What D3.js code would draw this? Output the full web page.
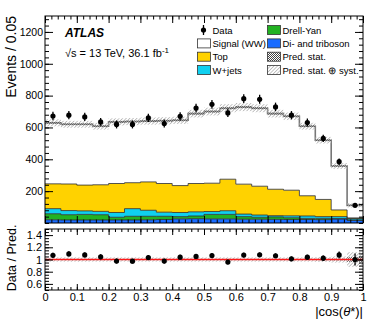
<!DOCTYPE html>
<html>
<head>
<meta charset="utf-8">
<script src="https://cdn.jsdelivr.net/npm/d3@7"></script>
<style>
body{margin:0;background:#fff;}
text{font-family:"Liberation Sans",Arial,Helvetica,sans-serif;fill:#000;}
</style>
</head>
<body>
<svg id="chart"></svg>
<script>
// bins of |cos(theta*)|
var binEdges = [0,0.05,0.1,0.15,0.2,0.25,0.3,0.35,0.4,0.45,0.5,0.55,0.6,0.65,0.7,0.75,0.8,0.85,0.9,0.95,1];

// events per bin
var dataVals = [672,677,666,635,619,619,660,625,670,722,745,691,781,777,729,677,631,531,385,111];
var dataErr  = [26,26,26,25,25,25,26,25,26,27,27,26,28,28,27,26,25,23,20,11];

var dibosonVals = [20,19,19,19,19,19,20,22,26,27,26,26,24,24,23,22,22,21,25,17];
var dyVals      = [38,33,35,33,17,23,22,20,14,17,28,28,16,12,15,11,7,8,2,2];
var wjetsVals   = [32,26,22,21,30,48,38,26,26,26,18,23,16,14,8,12,15,11,13,9];
var topVals     = [156,167,162,167,182,163,178,180,169,178,178,198,188,181,166,161,127,108,42,4];
var signalVals  = [383,375,382,368,387,384,382,394,410,439,450,446,484,490,475,464,437,372,276,79];

// relative uncertainty on the prediction
var systUnc = [0.035,0.035,0.035,0.035,0.035,0.035,0.035,0.035,0.035,0.035,0.035,0.035,0.035,0.035,0.035,0.035,0.035,0.04,0.05,0.12];
var statUnc = [0.01,0.01,0.01,0.01,0.01,0.01,0.01,0.01,0.01,0.01,0.01,0.01,0.01,0.01,0.01,0.01,0.01,0.012,0.015,0.04];

var xTicks = [0,0.1,0.2,0.3,0.4,0.5,0.6,0.7,0.8,0.9,1];
var xTickLabels = ["0","0.1","0.2","0.3","0.4","0.5","0.6","0.7","0.8","0.9","1"];
var mainYTicks = [200,400,600,800,1000,1200];
var mainYLabels = ["200","400","600","800","1000","1200"];
var ratioYTicks = [0.6,0.8,1,1.2,1.4];
var ratioYLabels = ["0.6","0.8","1","1.2","1.4"];

var legendLeft = ["Data","Signal (WW)","Top","W+jets"];
var legendRight = ["Drell-Yan","Di- and triboson","Pred. stat.","Pred. stat. \u2295 syst."];

var keys = ["diboson","dy","wjets","top","signal"];
var colors = {diboson:"#1a6cff", dy:"#22b222", wjets:"#10d0f0", top:"#ffd200", signal:"#ffffff"};

var width = 382, height = 323;
var main = {left:45, right:363, top:16, bottom:223};
var ratio = {top:229, bottom:290};

var svg = d3.select("#chart").attr("width",width).attr("height",height);

var defs = svg.append("defs");
var syst = defs.append("pattern").attr("id","syst")
  .attr("patternUnits","userSpaceOnUse").attr("width",2.5).attr("height",2.5)
  .attr("patternTransform","rotate(45)");
syst.append("rect").attr("width",2.5).attr("height",2.5).attr("fill","#fff").attr("fill-opacity",0.3);
syst.append("line").attr("x1",0).attr("y1",0).attr("x2",0).attr("y2",2.5)
  .attr("stroke","#8a8a8a").attr("stroke-width",1);
var stat = defs.append("pattern").attr("id","stat")
  .attr("patternUnits","userSpaceOnUse").attr("width",2).attr("height",2);
stat.append("rect").attr("width",1).attr("height",1).attr("fill","#444");
stat.append("rect").attr("x",1).attr("y",1).attr("width",1).attr("height",1).attr("fill","#444");

var xScale = d3.scaleLinear().domain([0,1]).range([main.left,main.right]);
var yScale = d3.scaleLinear().domain([0,1300]).range([main.bottom,main.top]);
var rScale = d3.scaleLinear().domain([0.5,1.5]).range([ratio.bottom,ratio.top]);

var nBins = dataVals.length;
var rows = binEdges.map(function(e,i){
  var k = Math.min(i,nBins-1);
  return {x:e, diboson:dibosonVals[k], dy:dyVals[k], wjets:wjetsVals[k], top:topVals[k], signal:signalVals[k]};
});
var series = d3.stack().keys(keys)(rows);

var totals = dataVals.map(function(d,i){
  return dibosonVals[i]+dyVals[i]+wjetsVals[i]+topVals[i]+signalVals[i];
});

var area = d3.area()
  .x(function(d){return xScale(d.data.x);})
  .y0(function(d){return yScale(d[0]);})
  .y1(function(d){return yScale(d[1]);})
  .curve(d3.curveStepAfter);
var topLine = d3.line()
  .x(function(d){return xScale(d.data.x);})
  .y(function(d){return yScale(d[1]);})
  .curve(d3.curveStepAfter);

var plot = svg.append("g");
plot.selectAll("path.stack")
  .data(series)
  .enter()
  .append("path")
  .attr("class","stack")
  .attr("d",area)
  .attr("fill",function(d){return colors[d.key];});

plot.selectAll("path.edge")
  .data(series)
  .enter()
  .append("path")
  .attr("class","edge")
  .attr("d",topLine)
  .attr("fill","none")
  .attr("stroke",function(d){return d.key=="signal" ? "#777" : "#2a2a2a";})
  .attr("stroke-width",function(d){return d.key=="signal" ? 1.6 : 0.8;});

// uncertainty bands, main panel
var bandData = totals.map(function(t,i){return {lo:binEdges[i], hi:binEdges[i+1], t:t, s:systUnc[i], st:statUnc[i]};});
plot.selectAll("rect.syst")
  .data(bandData).enter().append("rect")
  .attr("x",function(d){return xScale(d.lo);})
  .attr("width",function(d){return xScale(d.hi)-xScale(d.lo);})
  .attr("y",function(d){return yScale(d.t*(1+d.s));})
  .attr("height",function(d){return yScale(d.t*(1-d.s))-yScale(d.t*(1+d.s));})
  .attr("fill","url(#syst)");
plot.selectAll("rect.stat")
  .data(bandData).enter().append("rect")
  .attr("x",function(d){return xScale(d.lo);})
  .attr("width",function(d){return xScale(d.hi)-xScale(d.lo);})
  .attr("y",function(d){return yScale(d.t*(1+d.st));})
  .attr("height",function(d){return yScale(d.t*(1-d.st))-yScale(d.t*(1+d.st));})
  .attr("fill","url(#stat)").attr("opacity",0.7);

// data points
var centers = dataVals.map(function(d,i){return (binEdges[i]+binEdges[i+1])/2;});
plot.selectAll("line.err")
  .data(dataVals).enter().append("line")
  .attr("x1",function(d,i){return xScale(centers[i]);})
  .attr("x2",function(d,i){return xScale(centers[i]);})
  .attr("y1",function(d,i){return yScale(d+dataErr[i]);})
  .attr("y2",function(d,i){return yScale(d-dataErr[i]);})
  .attr("stroke","#000").attr("stroke-width",1.3);
plot.selectAll("circle.pt")
  .data(dataVals).enter().append("circle")
  .attr("cx",function(d,i){return xScale(centers[i]);})
  .attr("cy",function(d){return yScale(d);})
  .attr("r",2.6).attr("fill","#000");

// ratio panel
var ratioG = svg.append("g");
ratioG.selectAll("rect.rsyst")
  .data(bandData).enter().append("rect")
  .attr("x",function(d){return xScale(d.lo);})
  .attr("width",function(d){return xScale(d.hi)-xScale(d.lo);})
  .attr("y",function(d){return rScale(1+d.s);})
  .attr("height",function(d){return rScale(1-d.s)-rScale(1+d.s);})
  .attr("fill","url(#syst)");
ratioG.selectAll("rect.rstat")
  .data(bandData).enter().append("rect")
  .attr("x",function(d){return xScale(d.lo);})
  .attr("width",function(d){return xScale(d.hi)-xScale(d.lo);})
  .attr("y",function(d){return rScale(1+d.st);})
  .attr("height",function(d){return rScale(1-d.st)-rScale(1+d.st);})
  .attr("fill","url(#stat)").attr("opacity",0.7);
ratioG.append("line")
  .attr("x1",xScale(0)).attr("x2",xScale(1))
  .attr("y1",rScale(1)).attr("y2",rScale(1))
  .attr("stroke","#ff1a1a").attr("stroke-width",1.5);
ratioG.selectAll("line.rerr")
  .data(dataVals).enter().append("line")
  .attr("x1",function(d,i){return xScale(centers[i]);})
  .attr("x2",function(d,i){return xScale(centers[i]);})
  .attr("y1",function(d,i){return rScale((d+dataErr[i])/totals[i]);})
  .attr("y2",function(d,i){return rScale((d-dataErr[i])/totals[i]);})
  .attr("stroke","#000").attr("stroke-width",1.3);
ratioG.selectAll("circle.rpt")
  .data(dataVals).enter().append("circle")
  .attr("cx",function(d,i){return xScale(centers[i]);})
  .attr("cy",function(d,i){return rScale(d/totals[i]);})
  .attr("r",2.6).attr("fill","#000");

// axes
var xMinor = d3.range(0,1.001,0.02);
var yMinor = d3.range(0,1281,40);
var rMinor = d3.range(0.5,1.501,0.05);

var addAxis = function(axis, tx, ty, fontSize)
{
  var g = svg.append("g")
    .attr("transform","translate("+tx+","+ty+")")
    .call(axis);
  g.select(".domain").remove();
  g.selectAll("text").style("font-size",(fontSize || 11)+"px").style("font-family","'Liberation Sans',Arial,sans-serif");
  return g;
}

// main panel
addAxis(d3.axisLeft(yScale).tickValues(mainYTicks).tickSize(-8).tickPadding(2)
  .tickFormat(function(d,i){return mainYLabels[i];}), main.left, 0, 10.5);
addAxis(d3.axisLeft(yScale).tickValues(yMinor).tickSize(-4).tickFormat(""), main.left, 0);
addAxis(d3.axisRight(yScale).tickValues(mainYTicks).tickSize(-8).tickFormat(""), main.right, 0);
addAxis(d3.axisRight(yScale).tickValues(yMinor).tickSize(-4).tickFormat(""), main.right, 0);
addAxis(d3.axisTop(xScale).tickValues(xTicks).tickSize(-7).tickFormat(""), 0, main.top);
addAxis(d3.axisTop(xScale).tickValues(xMinor).tickSize(-3.5).tickFormat(""), 0, main.top);
addAxis(d3.axisBottom(xScale).tickValues(xTicks).tickSize(-7).tickFormat(""), 0, main.bottom);
addAxis(d3.axisBottom(xScale).tickValues(xMinor).tickSize(-3.5).tickFormat(""), 0, main.bottom);

// ratio panel
addAxis(d3.axisLeft(rScale).tickValues(ratioYTicks).tickSize(-8).tickPadding(3)
  .tickFormat(function(d,i){return ratioYLabels[i];}), main.left, 0);
addAxis(d3.axisLeft(rScale).tickValues(rMinor).tickSize(-4).tickFormat(""), main.left, 0);
addAxis(d3.axisRight(rScale).tickValues(ratioYTicks).tickSize(-8).tickFormat(""), main.right, 0);
addAxis(d3.axisRight(rScale).tickValues(rMinor).tickSize(-4).tickFormat(""), main.right, 0);
addAxis(d3.axisTop(xScale).tickValues(xTicks).tickSize(-6).tickFormat(""), 0, ratio.top);
addAxis(d3.axisTop(xScale).tickValues(xMinor).tickSize(-3).tickFormat(""), 0, ratio.top);
addAxis(d3.axisBottom(xScale).tickValues(xTicks).tickSize(-6).tickPadding(3)
  .tickFormat(function(d,i){return xTickLabels[i];}), 0, ratio.bottom);
addAxis(d3.axisBottom(xScale).tickValues(xMinor).tickSize(-3).tickFormat(""), 0, ratio.bottom);

svg.selectAll(".tick line").attr("stroke","#000");

// frames
svg.append("rect").attr("x",main.left).attr("y",main.top)
  .attr("width",main.right-main.left).attr("height",main.bottom-main.top)
  .attr("fill","none").attr("stroke","#000").attr("stroke-width",1);
svg.append("rect").attr("x",main.left).attr("y",ratio.top)
  .attr("width",main.right-main.left).attr("height",ratio.bottom-ratio.top)
  .attr("fill","none").attr("stroke","#000").attr("stroke-width",1);

// titles
svg.append("text").attr("transform","translate(16,"+main.top+") rotate(-90)")
  .attr("text-anchor","end").style("font-size","14px").text("Events / 0.05");
svg.append("text").attr("transform","translate(16,258) rotate(-90)")
  .attr("text-anchor","middle").style("font-size","12.5px").text("Data / Pred.");
var xt = svg.append("text").attr("x",main.right).attr("y",316)
  .attr("text-anchor","end").style("font-size","13px");
xt.append("tspan").text("|cos(");
xt.append("tspan").style("font-style","italic").text("\u03b8");
xt.append("tspan").text("*)|");

svg.append("text").attr("x",65).attr("y",37)
  .style("font-size","12px").style("font-weight","bold").style("font-style","italic").text("ATLAS");
var en = svg.append("text").attr("x",65).attr("y",57).style("font-size","11px");
en.append("tspan").text("\u221as = 13 TeV, 36.1 fb");
en.append("tspan").attr("dy",-4).style("font-size","8px").text("-1");

// legend
var rowY = [30,43.4,56.7,70];
var leftFill = [null,"#ffffff",colors.top,colors.wjets];
var rightFill = [colors.dy,colors.diboson,"url(#stat)","url(#syst)"];
var leg = svg.append("g").style("font-size","9.5px");
leg.append("line").attr("x1",203.5).attr("x2",203.5).attr("y1",rowY[0]-5).attr("y2",rowY[0]+5)
  .attr("stroke","#000").attr("stroke-width",1.3);
leg.append("circle").attr("cx",203.5).attr("cy",rowY[0]).attr("r",2.6).attr("fill","#000");
leg.selectAll("rect.lb")
  .data(leftFill.slice(1)).enter().append("rect")
  .attr("x",197.5).attr("y",function(d,i){return rowY[i+1]-4.5;})
  .attr("width",13).attr("height",9)
  .attr("fill",function(d){return d;}).attr("stroke","#333").attr("stroke-width",0.8);
leg.selectAll("text.ll")
  .data(legendLeft).enter().append("text")
  .attr("x",212.5).attr("y",function(d,i){return rowY[i]+3.5;})
  .text(function(d){return d;});
leg.selectAll("rect.rb")
  .data(rightFill).enter().append("rect")
  .attr("x",267.5).attr("y",function(d,i){return rowY[i]-4.5;})
  .attr("width",13).attr("height",9)
  .attr("fill",function(d){return d;}).attr("stroke","#333").attr("stroke-width",0.8);
leg.selectAll("text.rl")
  .data(legendRight).enter().append("text")
  .attr("x",282.5).attr("y",function(d,i){return rowY[i]+3.5;})
  .text(function(d){return d;});
</script>
</body>
</html>
